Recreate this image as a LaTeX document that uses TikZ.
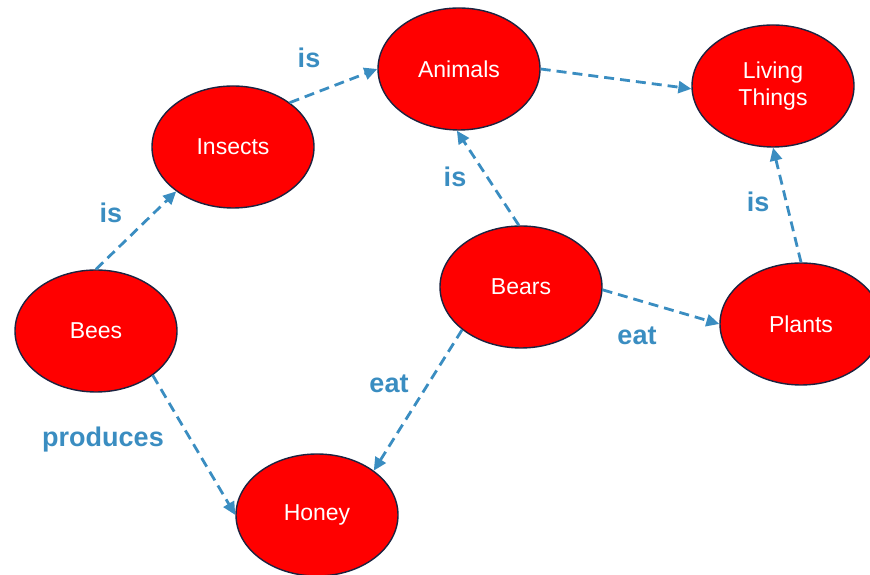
\documentclass[tikz,border=0pt]{standalone}
\usepackage{fontspec}
\setmainfont{Liberation Sans}
\usetikzlibrary{shapes.geometric,arrows.meta}
\definecolor{linkblue}{HTML}{3A8DC1}
\definecolor{rimnavy}{HTML}{1C2340}
\tikzset{
  concept/.style={ellipse, draw=rimnavy, line width=1.4pt, fill=red,
    minimum width=162pt, minimum height=122pt, inner sep=0pt,
    text=white, font=\fontsize{23}{27}\selectfont, align=center},
  link/.style={draw=linkblue, line width=2.8pt, dash pattern=on 10pt off 6pt,
    -{Triangle[length=13pt,width=12pt]}},
  linklabel/.style={text=linkblue, font=\fontsize{27}{31}\selectfont\bfseries}
}
\begin{document}
\begin{tikzpicture}[x=1pt,y=1pt]
  \useasboundingbox (0,0) rectangle (870,575);
  \clip (0,0) rectangle (870,575);
  % concepts (y measured from the bottom edge)
  \node[concept] (bees)    at (96,244)  {Bees};
  \node[concept] (insects) at (233,428) {Insects};
  \node[concept] (animals) at (459,506) {Animals};
  \node[concept] (living)  at (773,489) {Living\\Things};
  \node[concept] (bears)   at (521,288) {Bears};
  \node[concept] (plants)  at (801,251) {Plants};
  \node[concept] (honey)   at (317,60)  {Honey};
  % relations
  \draw[link] (bees.north)  -- (insects.218);
  \draw[link] (insects.38)  -- (animals.west);
  \draw[link] (animals.east) -- (living.182);
  \draw[link] (bears.92)    -- (animals.268);
  \draw[link] (plants.north) -- (living.south);
  \draw[link] (bears.358)   -- (plants.west);
  \draw[link] (bears.216)   -- (honey.38);
  \draw[link] (bees.322)    -- (honey.west);
  % relation labels
  \node[linklabel] (l1) at (111,362) {is};
  \node[linklabel] (l2) at (309,517) {is};
  \node[linklabel] (l3) at (455,398) {is};
  \node[linklabel] (l4) at (758,373) {is};
  \node[linklabel] (l5) at (637,239) {eat};
  \node[linklabel] (l6) at (389,191) {eat};
  \node[linklabel] (l7) at (103,135) {produces};
\end{tikzpicture}
\end{document}
